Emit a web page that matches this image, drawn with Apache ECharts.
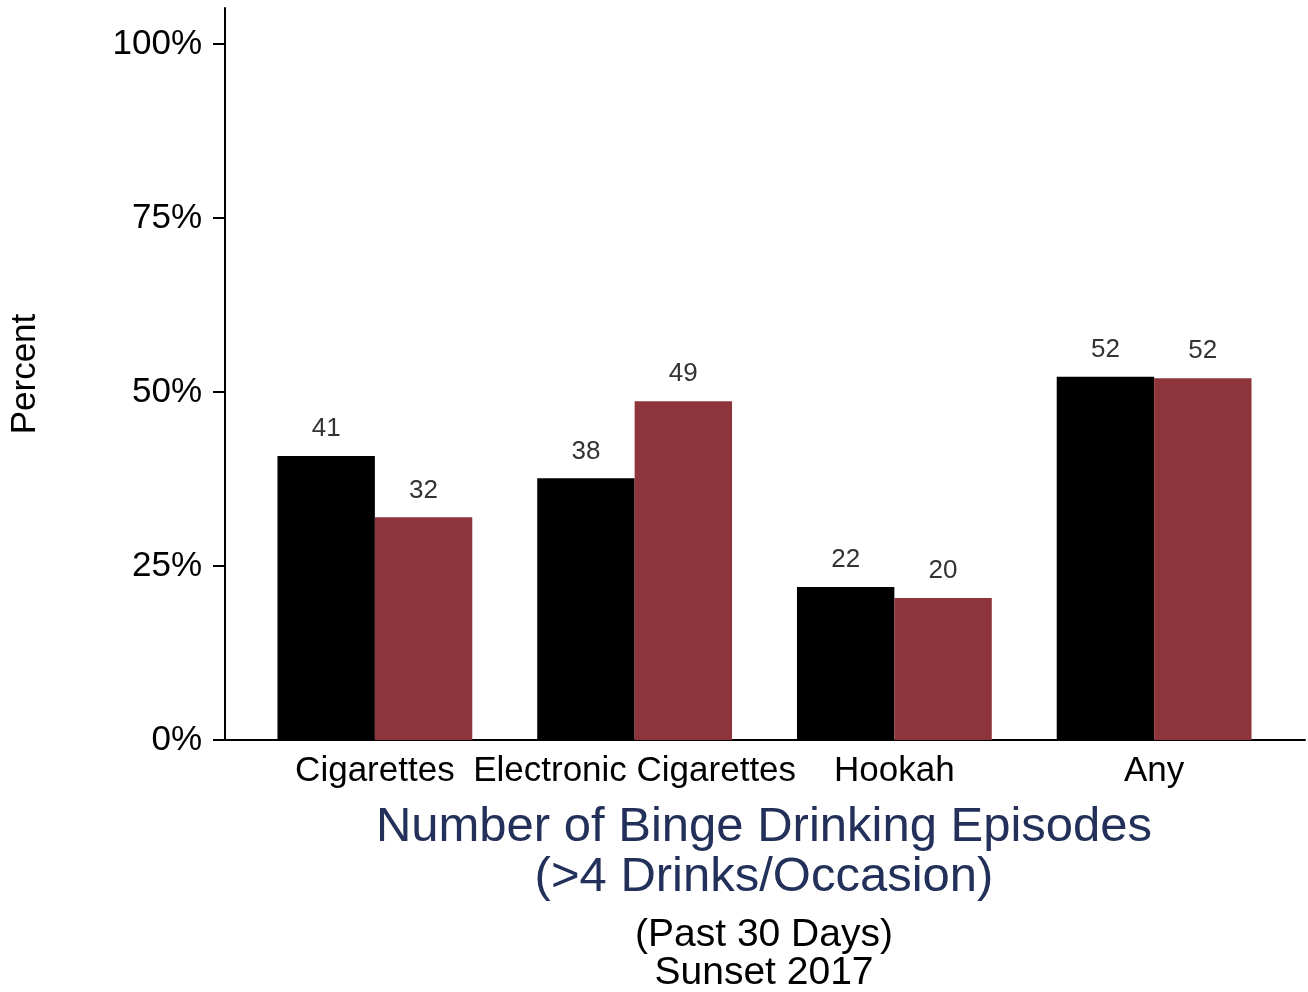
<!DOCTYPE html>
<html>
<head>
<meta charset="utf-8">
<script src="https://cdn.jsdelivr.net/npm/echarts@6/dist/echarts.min.js"></script>
<style>html,body{margin:0;padding:0;background:#fff}#c{width:1308px;height:992px}</style>
</head>
<body>
<div id="c"></div>
<script>
const categories = ['Cigarettes', 'Electronic Cigarettes', 'Hookah', 'Any'];
const seriesA = [40.8, 37.6, 22.0, 52.2];
const seriesB = [32.0, 48.7, 20.4, 52.0];
const yTicks = [0, 25, 50, 75, 100];
const FONT = '"Liberation Sans", Arial, Helvetica, sans-serif';
const YMAX = 105.2;

const chart = echarts.init(document.getElementById('c'), null, {renderer: 'canvas'});
const labelOpt = {
  show: true, position: 'top', distance: 14,
  color: '#333', fontSize: 26, fontFamily: FONT,
  formatter: p => Math.round(p.value)
};
chart.setOption({
  animation: false,
  backgroundColor: '#fff',
  textStyle: {fontFamily: FONT},
  title: [
    {text: 'Number of Binge Drinking Episodes\n(>4 Drinks/Occasion)', left: 759, top: 797, textAlign: 'center',
     textStyle: {color: '#22305a', fontSize: 49, fontWeight: 'normal', fontFamily: FONT, lineHeight: 50}},
    {text: '(Past 30 Days)\nSunset 2017', left: 759, top: 911, textAlign: 'center',
     textStyle: {color: '#000', fontSize: 39, fontWeight: 'normal', fontFamily: FONT, lineHeight: 38}}
  ],
  grid: [
    {left: 245, right: 24, top: 8, bottom: 252},
    {left: 222, right: 3, top: 8, bottom: 252}
  ],
  xAxis: [
    {type: 'category', gridIndex: 0, data: categories,
     axisLine: {show: false}, axisTick: {show: false},
     axisLabel: {color: '#000', fontSize: 35, fontFamily: FONT, margin: 14, interval: 0}},
    {type: 'value', gridIndex: 1, min: 0, max: 1,
     axisLine: {show: true, lineStyle: {color: '#000', width: 2}},
     axisTick: {show: false}, axisLabel: {show: false}, splitLine: {show: false}}
  ],
  yAxis: [
    {type: 'value', gridIndex: 0, min: 0, max: YMAX, show: false, splitLine: {show: false}},
    {type: 'value', gridIndex: 1, min: 0, max: YMAX,
     name: 'Percent', nameLocation: 'middle', nameGap: 182,
     nameTextStyle: {color: '#000', fontSize: 35, fontFamily: FONT},
     axisLine: {show: true, lineStyle: {color: '#000', width: 2}},
     axisTick: {show: true, length: 12, lineStyle: {color: '#000', width: 2}, customValues: yTicks},
     axisLabel: {color: '#000', fontSize: 35, fontFamily: FONT, margin: 23, customValues: yTicks,
                 formatter: v => v + '%'},
     splitLine: {show: false}}
  ],
  series: [
    {type: 'bar', xAxisIndex: 0, yAxisIndex: 0, data: seriesA, barWidth: '37.5%', barGap: '0%',
     itemStyle: {color: '#000'}, label: labelOpt},
    {type: 'bar', xAxisIndex: 0, yAxisIndex: 0, data: seriesB, barWidth: '37.5%', barGap: '0%',
     itemStyle: {color: '#8e353c'}, label: labelOpt}
  ]
});
</script>
</body>
</html>
